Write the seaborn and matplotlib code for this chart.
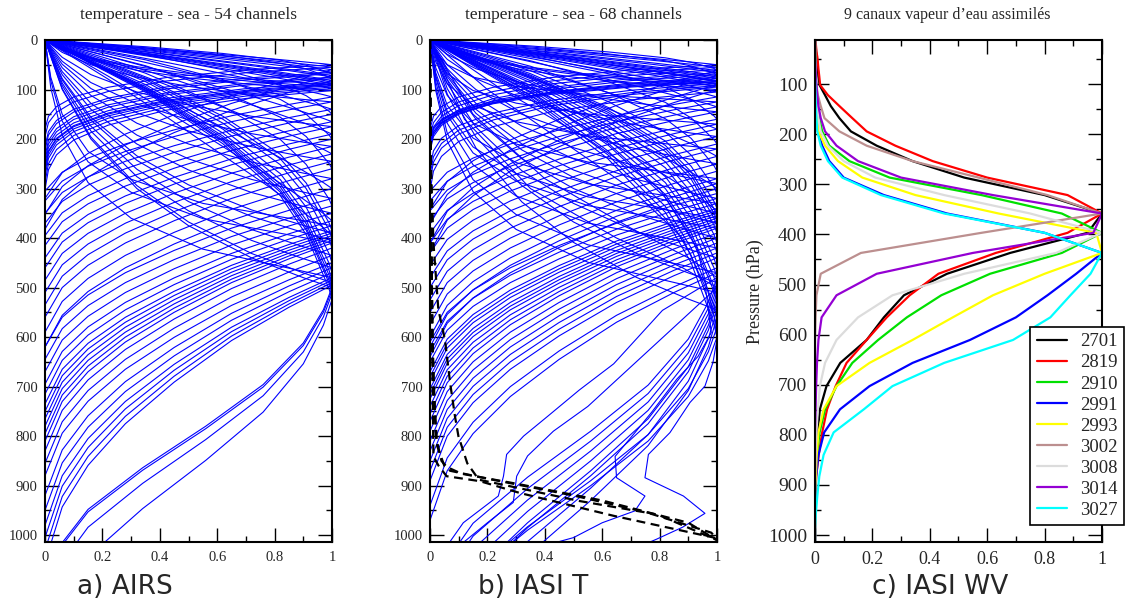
import matplotlib
matplotlib.use("Agg")
import matplotlib.pyplot as plt
import numpy as np
import pandas as pd
import seaborn as sns
from matplotlib.ticker import FuncFormatter, MultipleLocator

SURFACE = 1013.25

# typical weighting-function shapes:
# upper side = x at fractions of the peak pressure, lower side = x at fractions of the width below the peak
UPPER_F = [0, 0.2, 0.4, 0.6, 0.75, 0.88, 0.96, 1.0]
UPPER_SHAPES = [
    [0, 0.22, 0.43, 0.63, 0.78, 0.9, 0.97, 1.0],   # straight from the origin
    [0, 0.06, 0.16, 0.32, 0.5, 0.72, 0.9, 1.0],    # bowed
    [0, 0.35, 0.62, 0.82, 0.91, 0.96, 0.99, 1.0],  # broad
    [0, 0.02, 0.06, 0.15, 0.3, 0.55, 0.85, 1.0],   # hugging the left edge
]
LOWER_D = [0, 0.08, 0.2, 0.35, 0.5, 0.65, 0.8, 1.0]
LOWER_SHAPES = [
    [1, 0.7, 0.42, 0.22, 0.1, 0.04, 0.012, 0],     # sharp
    [1, 0.85, 0.65, 0.45, 0.28, 0.15, 0.06, 0],    # medium
    [1, 0.97, 0.9, 0.76, 0.56, 0.34, 0.15, 0],     # rounded
]

# ---- panel a: AIRS, 54 temperature channels ----
AIRS_PEAK = [50, 55, 60, 65, 68, 72, 75, 78, 82, 85, 88, 90, 92, 95, 98, 102,
             115, 125, 140, 150, 165, 175, 190, 200, 215, 230, 245, 260, 280, 300,
             320, 335, 350, 365, 375, 385, 390, 395, 400, 405, 410, 420, 435, 450,
             460, 470, 480, 485, 490, 495, 500, 505, 512, 524]
AIRS_UPPER = [0, 0, 0, 0, 2, 0, 0, 2, 0, 0, 0, 1, 0, 1, 0, 1,
              0, 1, 0, 2, 0, 1, 0, 2, 1, 0, 1, 2, 1, 0,
              1, 2, 1, 0, 3, 2, 1, 0, 2, 1, 3, 2, 1, 2,
              1, 2, 3, 2, 1, 2, 1, 2, 2, 2]
AIRS_LOWER = [0, 0, 1, 0, 0, 1, 0, 0, 1, 0, 0, 0, 0, 0, 0, 0,
              1, 1, 1, 1, 1, 1, 1, 1, 1, 1, 1, 1, 1, 1,
              1, 1, 1, 1, 1, 1, 1, 1, 1, 1, 1, 1, 1, 1,
              1, 1, 1, 1, 1, 1, 2, 2, 2, 2]
AIRS_WIDTH = [130, 140, 260, 150, 155, 280, 160, 165, 300, 165, 170, 170, 175, 180, 190, 200,
              190, 200, 210, 220, 230, 240, 250, 260, 270, 280, 290, 300, 310, 320,
              300, 310, 320, 330, 340, 350, 360, 370, 380, 390, 400, 410, 420, 430,
              460, 480, 500, 520, 540, 560, 560, 560, 590, 650]

# ---- panel b: IASI, 68 temperature channels (64 regular + 4 surface-sensitive) ----
IASI_PEAK = [50, 55, 60, 62, 66, 70, 72, 75, 78, 82, 84, 85, 88, 90, 92, 95, 100, 105,
             115, 125, 135, 145, 160, 170, 180, 195, 210, 220, 235, 250, 265, 280, 290, 300,
             310, 320, 330, 340, 345, 350, 355, 360, 365, 370, 375, 380, 390, 400, 410, 420, 430, 440,
             460, 470, 480, 490, 500, 510, 520, 530, 545, 560, 580, 600]
IASI_UPPER = [0, 0, 2, 0, 0, 2, 0, 0, 0, 0, 0, 0, 1, 0, 1, 0, 1, 0,
              0, 3, 0, 1, 2, 3, 0, 1, 2, 3, 0, 1, 2, 3, 1, 0,
              2, 1, 3, 2, 0, 1, 2, 3, 2, 1, 2, 3, 2, 1, 2, 3, 2, 1,
              2, 3, 2, 1, 2, 3, 2, 2, 1, 2, 2, 2]
IASI_LOWER = [0, 0, 0, 1, 0, 0, 1, 0, 0, 0, 0, 0, 0, 1, 0, 0, 1, 0,
              1, 1, 1, 1, 1, 1, 1, 1, 1, 1, 1, 1, 1, 1, 1, 1,
              1, 1, 1, 1, 1, 1, 1, 1, 1, 1, 1, 1, 1, 1, 1, 1, 1, 1,
              1, 1, 2, 2, 2, 2, 2, 2, 2, 2, 2, 2]
IASI_WIDTH = [130, 140, 145, 280, 150, 150, 300, 150, 140, 120, 120, 125, 170, 320, 180, 190, 330, 200,
              190, 200, 210, 220, 230, 240, 250, 260, 270, 280, 290, 300, 310, 320, 330, 340,
              300, 310, 320, 330, 335, 340, 350, 355, 360, 370, 380, 390, 400, 410, 420, 430, 440, 450,
              480, 500, 620, 640, 660, 680, 700, 700, 720, 740, 620, 600]

IASI_SPECIAL_X = [
    [0, 0.25, 0.55, 0.8, 0.93, 0.99, 1.0, 0.986, 0.958, 0.906, 0.836, 0.761, 0.749, 0.883, 0.958, 0.88, 0.79, 0.77],
    [0, 0.2, 0.45, 0.7, 0.88, 0.96, 0.98, 0.934, 0.86, 0.772, 0.714, 0.645, 0.65, 0.749, 0.714, 0.6, 0.5, 0.45],
    [0, 0.15, 0.4, 0.7, 0.9, 1.0, 0.81, 0.64, 0.52, 0.41, 0.326, 0.267, 0.256, 0.238, 0.116, 0.076, 0.07],
    [0, 0.12, 0.35, 0.65, 0.88, 1.0, 0.85, 0.7, 0.55, 0.43, 0.34, 0.302, 0.29, 0.2, 0.12],
]
IASI_SPECIAL_P = [
    [0, 100, 200, 300, 420, 558, 605, 651, 699, 732, 793, 837, 884, 921, 956, 984, 1008, 1013],
    [0, 100, 200, 300, 400, 500, 591, 639, 685, 752, 793, 841, 884, 921, 951, 975, 1005, 1013],
    [0, 150, 280, 380, 440, 480, 546, 654, 707, 760, 800, 837, 881, 921, 975, 1008, 1013],
    [0, 160, 300, 400, 460, 500, 580, 660, 740, 790, 840, 881, 934, 975, 1013],
]

# black dashed curves of panel b
DASH_X = [
    [0, 0.003, 0.012, 0.029, 0.052, 0.07, 0.087, 0.099, 0.13, 0.17, 0.31, 0.52, 0.76, 0.98, 1.0],
    [0, 0.004, 0.012, 0.025, 0.05, 0.11, 0.3, 0.6, 0.9, 1.0],
    [0, 0.005, 0.012, 0.03, 0.058, 0.174, 0.314, 0.64, 0.99, 1.0],
    [0, 0.008, 0.02, 0.04, 0.07, 0.2, 0.5, 0.8, 1.0],
]
DASH_P = [
    [0, 250, 410, 544, 605, 692, 760, 800, 855, 888, 905, 931, 955, 995, 1008],
    [0, 400, 700, 820, 860, 876, 896, 930, 975, 1010],
    [0, 500, 841, 860, 881, 891, 915, 961, 1005, 1012],
    [0, 600, 800, 850, 870, 886, 920, 960, 1010],
]

# ---- panel c: IASI water vapour channels on the RTTOV levels ----
WV_PRESSURE = [10.37, 14.81, 20.4, 27.26, 35.51, 45.29, 56.73, 69.97, 85.18, 102.05,
               122.04, 143.84, 167.95, 194.36, 222.94, 253.71, 286.6, 321.5, 358.28, 396.81,
               436.95, 478.54, 521.46, 565.54, 610.6, 656.43, 702.73, 749.12, 795.09, 839.95,
               882.8, 922.46, 957.44, 985.88, 1005.43, 1013.25]
WV_CHANNELS = ["2701", "2819", "2910", "2991", "2993", "3002", "3008", "3014", "3027"]
WV_COLORS = ["#000000", "#ff0000", "#00e000", "#0000ff", "#ffff00", "#bc8f8f", "#dcdcdc", "#9400d3", "#00ffff"]
WV_2701 = [0, 0.001, 0.002, 0.003, 0.004, 0.006, 0.008, 0.01, 0.012, 0.016, 0.035, 0.055, 0.085, 0.125, 0.215, 0.34, 0.52, 0.8,
           1.0, 0.95, 0.68, 0.46, 0.31, 0.24, 0.18, 0.088, 0.04, 0.017, 0.009, 0.005, 0.002, 0, 0, 0, 0, 0]
WV_2819 = [0, 0.002, 0.003, 0.004, 0.005, 0.008, 0.01, 0.012, 0.015, 0.018, 0.045, 0.085, 0.13, 0.18, 0.28, 0.41, 0.6, 0.88,
           1.0, 0.88, 0.63, 0.43, 0.33, 0.25, 0.18, 0.11, 0.072, 0.042, 0.025, 0.013, 0.004, 0.001, 0, 0, 0, 0]
WV_2910 = [0, 0, 0, 0, 0, 0.001, 0.002, 0.002, 0.003, 0.004, 0.006, 0.01, 0.015, 0.025, 0.05, 0.12, 0.26, 0.58,
           0.86, 1.0, 0.86, 0.61, 0.44, 0.32, 0.22, 0.13, 0.075, 0.035, 0.016, 0.007, 0.002, 0, 0, 0, 0, 0]
WV_2991 = [0, 0, 0, 0, 0, 0, 0, 0, 0.001, 0.002, 0.003, 0.004, 0.006, 0.01, 0.025, 0.05, 0.1, 0.24,
           0.46, 0.8, 1.0, 0.91, 0.81, 0.7, 0.54, 0.34, 0.19, 0.087, 0.032, 0.012, 0.004, 0.001, 0, 0, 0, 0]
WV_2993 = [0, 0, 0, 0, 0, 0, 0, 0, 0, 0.001, 0.002, 0.004, 0.006, 0.012, 0.035, 0.08, 0.165, 0.35,
           0.64, 0.98, 1.0, 0.8, 0.62, 0.48, 0.34, 0.19, 0.075, 0.03, 0.012, 0.006, 0.003, 0, 0, 0, 0, 0]
WV_3002 = [0, 0, 0, 0, 0, 0, 0.001, 0.002, 0.003, 0.005, 0.01, 0.02, 0.033, 0.085, 0.18, 0.34, 0.57, 0.81,
           1.0, 0.58, 0.16, 0.02, 0.005, 0.002, 0, 0, 0, 0, 0, 0, 0, 0, 0, 0, 0, 0]
WV_3008 = [0, 0, 0, 0, 0, 0, 0, 0.001, 0.002, 0.003, 0.005, 0.008, 0.012, 0.02, 0.045, 0.1, 0.21, 0.45,
           0.75, 1.0, 0.84, 0.52, 0.27, 0.15, 0.075, 0.035, 0.017, 0.01, 0.005, 0.002, 0, 0, 0, 0, 0, 0]
WV_3014 = [0, 0, 0, 0, 0, 0, 0.001, 0.002, 0.003, 0.005, 0.008, 0.012, 0.02, 0.035, 0.075, 0.15, 0.3, 0.62,
           1.0, 0.97, 0.55, 0.215, 0.075, 0.023, 0.012, 0.007, 0.004, 0.002, 0, 0, 0, 0, 0, 0, 0, 0]
WV_3027 = [0, 0, 0, 0, 0, 0, 0, 0, 0, 0.001, 0.002, 0.003, 0.005, 0.008, 0.02, 0.045, 0.095, 0.23,
           0.45, 0.8, 1.0, 0.96, 0.89, 0.82, 0.69, 0.45, 0.27, 0.17, 0.065, 0.03, 0.015, 0.008, 0.003, 0, 0, 0]
WV_VALUES = [WV_2701, WV_2819, WV_2910, WV_2991, WV_2993, WV_3002, WV_3008, WV_3014, WV_3027]

TITLES = ["temperature - sea - 54 channels", "temperature - sea - 68 channels", "9 canaux vapeur d\u2019eau assimil\u00e9s"]
PANEL_LABELS = ["a) AIRS", "b) IASI T", "c) IASI WV"]

W, H = 1127, 604


def shaped_curves(peaks, uppers, lowers, widths, start=0):
    rows = []
    for i, (pk, up, lo, wd) in enumerate(zip(peaks, uppers, lowers, widths)):
        xs = list(UPPER_SHAPES[up]) + list(LOWER_SHAPES[lo][1:]) + [0.0]
        ps = [pk * f for f in UPPER_F] + [pk + d * wd for d in LOWER_D[1:]]
        ps.append(max(ps[-1], SURFACE) + 50)
        rows += [(start + i, x, p) for x, p in zip(xs, ps)]
    return pd.DataFrame(rows, columns=["curve", "x", "p"])


def list_curves(xs_list, ps_list, start=0):
    rows = []
    for i, (xs, ps) in enumerate(zip(xs_list, ps_list)):
        rows += [(start + i, x, p) for x, p in zip(xs, ps)]
    return pd.DataFrame(rows, columns=["curve", "x", "p"])


def style_axis(ax, ytop, big=False):
    ax.set_xlim(0, 1)
    ax.set_ylim(SURFACE, ytop)
    ax.xaxis.set_major_locator(MultipleLocator(0.2))
    ax.xaxis.set_minor_locator(MultipleLocator(0.1))
    ax.yaxis.set_major_locator(MultipleLocator(100))
    ax.yaxis.set_minor_locator(MultipleLocator(50))
    ax.xaxis.set_major_formatter(FuncFormatter(lambda v, _: f"{v:g}"))
    ax.yaxis.set_major_formatter(FuncFormatter(lambda v, _: f"{v:g}"))
    ax.tick_params(which="both", direction="in", top=True, right=True, width=1.0, color="black")
    ax.tick_params(which="major", length=10)
    ax.tick_params(which="minor", length=4.5)
    ax.tick_params(axis="y", pad=5.5, labelsize=14 if big else 10.5)
    ax.tick_params(axis="x", pad=7, labelsize=13 if big else 10.5)
    for sp in ax.spines.values():
        sp.set_linewidth(1.5)
        sp.set_color("black")
        sp.set_visible(True)
    ax.set_xlabel("")
    ax.set_ylabel("")


sns.set_style("ticks")
plt.rcParams["font.family"] = ["Liberation Serif", "DejaVu Serif"]

fig = plt.figure(figsize=(W / 100, H / 100), dpi=100)
lefts = [45, 430, 815]
axes = [fig.add_axes([l / W, 1 - 541.7 / H, 287 / W, 501.7 / H]) for l in lefts]

airs = shaped_curves(AIRS_PEAK, AIRS_UPPER, AIRS_LOWER, AIRS_WIDTH)
sns.lineplot(data=airs, x="x", y="p", units="curve", estimator=None, sort=False,
             color="#0000ff", lw=0.8, ax=axes[0])

iasi = pd.concat([
    shaped_curves(IASI_PEAK, IASI_UPPER, IASI_LOWER, IASI_WIDTH),
    list_curves(IASI_SPECIAL_X, IASI_SPECIAL_P, start=100),
])
sns.lineplot(data=iasi, x="x", y="p", units="curve", estimator=None, sort=False,
             color="#0000ff", lw=0.8, ax=axes[1])
dash = list_curves(DASH_X, DASH_P)
sns.lineplot(data=dash, x="x", y="p", units="curve", estimator=None, sort=False,
             color="black", lw=1.6, linestyle=(0, (4, 2.5)), ax=axes[1])

wv = pd.DataFrame({
    "channel": np.repeat(WV_CHANNELS, len(WV_PRESSURE)),
    "p": WV_PRESSURE * len(WV_CHANNELS),
    "x": np.concatenate(WV_VALUES),
})
sns.lineplot(data=wv, x="x", y="p", hue="channel", palette=WV_COLORS, estimator=None,
             sort=False, lw=1.6, ax=axes[2])

style_axis(axes[0], 0)
style_axis(axes[1], 0)
style_axis(axes[2], 12, big=True)

handles, labels = axes[2].get_legend_handles_labels()
axes[2].get_legend().remove()
leg = axes[2].legend(handles, labels, loc="upper left", bbox_to_anchor=(0.749, 0.4285),
                     frameon=True, fancybox=False, fontsize=13.5, handlelength=1.6,
                     handletextpad=0.7, borderpad=0.35, labelspacing=0.21, borderaxespad=0)
leg.get_frame().set_edgecolor("black")
leg.get_frame().set_linewidth(1.2)
leg.get_frame().set_alpha(1)

title_x = [188, 573, 947]
for tx, t, size in zip(title_x, TITLES, [12.5, 12.5, 11.5]):
    fig.text(tx / W, 1 - 15 / H, t, ha="center", va="center", fontsize=size)

for lx, t in zip([77, 478, 872], PANEL_LABELS):
    fig.text(lx / W, 1 - 587 / H, t, ha="left", va="center", fontsize=19, family="DejaVu Sans")

fig.text(755 / W, 1 - 292 / H, "Pressure (hPa)", rotation=90, ha="center", va="center", fontsize=13)

fig.savefig("out.png", dpi=100)
